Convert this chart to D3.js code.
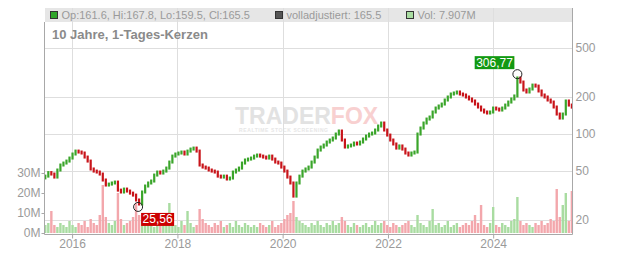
<!DOCTYPE html>
<html>
<head>
<meta charset="utf-8">
<script src="https://cdn.jsdelivr.net/npm/d3@7/dist/d3.min.js"></script>
<style>
  html, body { margin: 0; padding: 0; background: #fff; }
  svg { display: block; font-family: "Liberation Sans", Arial, sans-serif; }
</style>
</head>
<body>
<div id="chart"></div>
<script>
// ---- data (one point every 3 weeks) ----
const startDate = "2015-06-29";
const stepDays = 21;

const closes = [
  45.5, 48.6, 47.3, 44.7, 51, 56, 58.1, 60.3, 63.8, 68.8,
  72.7, 71.4, 70.1, 65, 60.3, 52, 50, 49.1, 47.3, 42.3,
  38.5, 39.2, 40, 40.7, 35, 33.8, 35.7, 34.4, 33.1, 31.9,
  29.1, 27, 33.8, 37.8, 40, 41.5, 46.4, 49.1, 48.2, 50,
  52.9, 59.2, 66.2, 68.8, 70.1, 71.4, 68.8, 72.7, 75.5, 76.9,
  72.7, 56, 53.9, 52.9, 51, 50, 49.1, 45.5, 44.7, 45.5,
  43.1, 43.9, 49.1, 51, 52.9, 58.1, 61.5, 62.6, 63.8, 66.2,
  67.5, 66.2, 65, 63.8, 66.2, 62.6, 59.2, 58.1, 53.9, 50,
  44.7, 40, 31.3, 40, 45.5, 50, 52, 53.9, 59.2, 65,
  74.1, 78.4, 81.4, 86.1, 89.4, 92.8, 100, 105.8, 89.4, 78.4,
  80, 81.4, 84.5, 83, 86.1, 91.1, 96.3, 100, 101.9, 107.8,
  116.2, 122.9, 107.8, 98.1, 89.4, 83, 76.9, 80, 75.5, 70.1,
  67.5, 70.1, 71.4, 100, 111.9, 122.9, 132.4, 137.5, 151, 162.7,
  169, 175.3, 189, 200, 211.5, 215.5, 219.6, 211.5, 207.6, 200,
  192.7, 185.6, 175.3, 165.8, 156.7, 151, 148.2, 151, 162.7, 159.7,
  156.7, 162.7, 172, 182, 192.7, 203.9, 285.5, 264.6, 228, 219.6,
  232.3, 250, 245.3, 223.8, 207.6, 200, 189, 182, 165.8, 145.4,
  134.9, 145.4, 185.6, 172, 165.5
];

// volume in millions
const volumes = [
  4, 5, 11, 4, 3, 5, 4, 3, 6, 4,
  3, 5, 4, 6, 3, 7, 5, 4, 9, 24,
  8, 5, 4, 6, 20, 7, 4, 5, 6, 8,
  15, 9, 6, 9, 4, 5, 3, 6, 4, 5,
  6, 15, 5, 4, 3, 6, 4, 11, 5, 3,
  4, 12, 7, 5, 4, 3, 5, 4, 6, 3,
  4, 5, 3, 6, 4, 3, 5, 4, 3, 4,
  3, 5, 4, 3, 4, 6, 3, 4, 5, 7,
  9, 10, 16, 8, 6, 5, 4, 3, 5, 4,
  6, 4, 3, 5, 4, 6, 4, 5, 8, 6,
  4, 3, 5, 4, 3, 4, 5, 3, 4, 6,
  4, 5, 6, 4, 3, 5, 4, 3, 4, 5,
  6, 4, 3, 9, 5, 4, 3, 6, 12, 4,
  5, 3, 4, 6, 3, 4, 5, 3, 4, 5,
  4, 6, 9, 5, 14, 4, 3, 5, 13, 4,
  3, 5, 4, 3, 6, 7, 18, 6, 4, 5,
  4, 3, 5, 4, 6, 4, 5, 7, 6, 22,
  8, 14, 20, 6, 21
];

const priceTicks = [20, 50, 100, 200, 500];
const volumeTicks = [0, 10, 20, 30];
const yearTicks = [2016, 2018, 2020, 2022, 2024];

const extremes = [
  { date: "2017-04-03", value: 25.56, type: "low" },
  { date: "2024-06-17", value: 306.77, type: "high" }
];

const chartTitle = "10 Jahre, 1-Tages-Kerzen";
const legendLabels = [
  "Op:161.6, Hi:167.8, Lo:159.5, Cl:165.5",
  "volladjustiert: 165.5",
  "Vol: 7.907M"
];

// ---- layout / style ----
const WIDTH = 632, HEIGHT = 253;
const PLOT = { left: 45, right: 572, top: 22, bottom: 234 };
const COLORS = {
  UP: "#3aa52a",
  DOWN: "#c8141a",
  VOL_UP: "#a9dca1",
  VOL_DOWN: "#f3a7ac",
  GRID: "#dedede",
  AXIS: "#a8a8a8",
  TEXT: "#9a9a9a",
  TITLE: "#8a8a8a",
  LEGEND_BG: "#e6e6e6"
};

const parse = d3.utcParse("%Y-%m-%d");
const t0 = parse(startDate);
const data = closes.map((c, i) => ({
  date: d3.utcDay.offset(t0, i * stepDays),
  open: i === 0 ? 44 : closes[i - 1],
  close: c,
  vol: volumes[i]
}));

const de = d3.formatLocale({ decimal: ",", thousands: ".", grouping: [3], currency: ["", "€"] });
const fmtPrice = de.format(".2f");

const svg = d3.select("#chart")
  .append("svg")
  .attr("width", WIDTH)
  .attr("height", HEIGHT);

const x = d3.scaleUtc()
  .domain([parse("2015-06-27"), parse("2025-07-01")])
  .range([PLOT.left, PLOT.right]);

const y = d3.scaleLog()
  .domain([15.4, 814])
  .range([PLOT.bottom, PLOT.top]);

const yVol = d3.scaleLinear()
  .domain([0, 50])
  .range([233, 133]);

// legend bar
svg.append("rect")
  .attr("x", PLOT.left).attr("y", 8)
  .attr("width", PLOT.right - PLOT.left).attr("height", 14)
  .attr("fill", COLORS.LEGEND_BG);

// watermark
const wm = svg.append("g").attr("class", "watermark");
const wmText = wm.append("text")
  .attr("x", 235).attr("y", 124)
  .style("font-size", "23px")
  .style("font-weight", "bold");
wmText.append("tspan").attr("fill", "#e2e2e2").text("TRADER");
wmText.append("tspan").attr("fill", "#f8d0d0").text("FOX");
wm.append("text")
  .attr("x", 239).attr("y", 132)
  .attr("textLength", 89)
  .attr("fill", "#e6e6e6")
  .style("font-size", "5px")
  .style("font-weight", "bold")
  .text("REALTIME STOCK SCREENING");

// grid
const yearDates = yearTicks.map((yr) => new Date(Date.UTC(yr, 0, 1)));
svg.append("g")
  .selectAll("line")
  .data(yearDates)
  .join("line")
  .attr("x1", (d) => Math.round(x(d)) + 0.5).attr("x2", (d) => Math.round(x(d)) + 0.5)
  .attr("y1", 8).attr("y2", PLOT.bottom)
  .attr("stroke", COLORS.GRID);

svg.append("g")
  .selectAll("line")
  .data(priceTicks)
  .join("line")
  .attr("x1", PLOT.left).attr("x2", PLOT.right)
  .attr("y1", (d) => Math.round(y(d)) + 0.5).attr("y2", (d) => Math.round(y(d)) + 0.5)
  .attr("stroke", COLORS.GRID);

// title + legend
svg.append("text")
  .attr("x", 52).attr("y", 39)
  .attr("fill", COLORS.TITLE)
  .style("font-size", "13px")
  .style("font-weight", "bold")
  .text(chartTitle);

const legendX = [50, 275, 406];
const legendSwatch = ["#2fa52a", "#555555", COLORS.VOL_UP];
const legend = svg.append("g")
  .selectAll("g")
  .data(legendLabels)
  .join("g")
  .attr("transform", (d, i) => `translate(${legendX[i]},0)`);
legend.append("rect")
  .attr("x", 0.5).attr("y", 11.5)
  .attr("width", 7).attr("height", 7)
  .attr("fill", (d, i) => legendSwatch[i])
  .attr("stroke", "#333");
legend.append("text")
  .attr("x", 11.5).attr("y", 18.5)
  .attr("fill", COLORS.TEXT)
  .style("font-size", "11px")
  .text((d) => d);

// volume bars
svg.append("g")
  .selectAll("rect")
  .data(data)
  .join("rect")
  .attr("x", (d) => x(d.date) - 1.2)
  .attr("width", 2.4)
  .attr("y", (d) => yVol(d.vol))
  .attr("height", (d) => yVol(0) - yVol(d.vol))
  .attr("fill", (d) => (d.close >= d.open ? COLORS.VOL_UP : COLORS.VOL_DOWN));

// candles
svg.append("g")
  .selectAll("rect")
  .data(data)
  .join("rect")
  .attr("x", (d) => x(d.date) - 1.1)
  .attr("width", 2.2)
  .attr("y", (d) => Math.min(y(d.open), y(d.close)) - 1.5)
  .attr("height", (d) => Math.abs(y(d.open) - y(d.close)) + 3)
  .attr("fill", (d) => (d.close >= d.open ? COLORS.UP : COLORS.DOWN));

// axes
const styleAxis = (g) => {
  g.selectAll("text").attr("fill", COLORS.TEXT).style("font-size", "12px")
    .style("font-family", "\"Liberation Sans\", Arial, sans-serif");
  g.selectAll("line").attr("stroke", COLORS.AXIS);
  g.select(".domain").remove();
};

svg.append("g")
  .attr("transform", `translate(${PLOT.right + 0.5},0)`)
  .call(d3.axisRight(y).tickValues(priceTicks).tickFormat(d3.format("d")).tickSize(0).tickPadding(3))
  .call(styleAxis);

svg.append("g")
  .attr("transform", `translate(${PLOT.left - 0.5},0)`)
  .call(d3.axisLeft(yVol).tickValues(volumeTicks).tickFormat((d) => d + "M").tickSize(3).tickPadding(1))
  .call(styleAxis);

svg.append("g")
  .attr("transform", `translate(0,${PLOT.bottom + 0.5})`)
  .call(d3.axisBottom(x).tickValues(yearDates).tickFormat(d3.utcFormat("%Y")).tickSize(4).tickPadding(1))
  .call(styleAxis);

// axis lines
svg.append("line")
  .attr("x1", PLOT.right + 0.5).attr("x2", PLOT.right + 0.5)
  .attr("y1", 8).attr("y2", PLOT.bottom + 0.5)
  .attr("stroke", COLORS.AXIS);
svg.append("line")
  .attr("x1", PLOT.left - 0.5).attr("x2", PLOT.left - 0.5)
  .attr("y1", PLOT.top).attr("y2", PLOT.bottom + 0.5)
  .attr("stroke", COLORS.AXIS);
svg.append("line")
  .attr("x1", PLOT.left - 0.5).attr("x2", PLOT.right + 0.5)
  .attr("y1", PLOT.bottom + 0.5).attr("y2", PLOT.bottom + 0.5)
  .attr("stroke", COLORS.AXIS);

// extreme markers
const marks = svg.append("g")
  .selectAll("g")
  .data(extremes)
  .join("g")
  .attr("transform", (d) => `translate(${x(parse(d.date))},${y(d.value)})`);

marks.append("circle")
  .attr("r", 4.5)
  .attr("fill", "none")
  .attr("stroke", "#222");

marks.each(function (d) {
  const g = d3.select(this);
  const label = g.append("text")
    .attr("fill", "#fff")
    .style("font-size", "12px")
    .text(fmtPrice(d.value));
  const w = label.node().getComputedTextLength() + 3;
  const h = 13;
  const bx = d.type === "high" ? -3 - w : 3;
  const by = d.type === "high" ? -5 - h : 6;
  g.insert("rect", "text")
    .attr("x", bx).attr("y", by)
    .attr("width", w).attr("height", h)
    .attr("fill", d.type === "high" ? "#129912" : "#cc0000");
  label.attr("x", bx + 1.5).attr("y", by + 10.5);
});
</script>
</body>
</html>
